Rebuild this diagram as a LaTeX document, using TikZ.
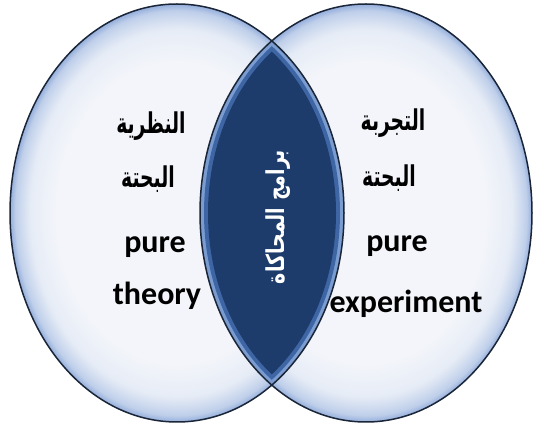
\documentclass[tikz,border=0pt]{standalone}
\usepackage{fontspec}
\setmainfont{Carlito}
\newfontfamily\arabicfont[Script=Arabic]{DejaVu Sans}
\TeXXeTstate=1
\definecolor{bubblecore}{HTML}{F3F5FA}
\definecolor{bubblemid}{HTML}{E6ECF6}
\definecolor{bubbleedge}{HTML}{BFCFEA}
\definecolor{bubblerim}{HTML}{94AEDB}
\definecolor{lensrim}{HTML}{7A9CD0}
\definecolor{lensmid}{HTML}{3F66A4}
\definecolor{lensnavy}{HTML}{1D3C6C}
\definecolor{outlinenavy}{HTML}{1A2538}
\pgfdeclareradialshading{bubble}{\pgfpoint{0bp}{0bp}}{color(0bp)=(bubblecore); color(18bp)=(bubblecore); color(22bp)=(bubblemid); color(24.2bp)=(bubbleedge); color(25bp)=(bubblerim); color(50bp)=(bubblerim)}
% arabisches Wort, etwas schmaler und hoeher
\newcommand{\arword}[1]{\scalebox{0.85}[1.3]{\beginR #1\endR}}

\begin{document}
\begin{tikzpicture}[x=1pt,y=-1pt,
    venntext/.style={font=\fontsize{32}{36}\selectfont\bfseries, anchor=base},
    arabtext/.style={font=\arabicfont\fontsize{22}{26}\selectfont\bfseries, anchor=base},
    outline/.style={draw=outlinenavy, line width=1.5pt}]
    \useasboundingbox (0,0) rectangle (536,427);

    % Mittelpunkte der beiden Kreise
    \coordinate (theo) at (177,213);
    \coordinate (expe) at (366,213);

    % Beide Kreise, hell schattiert
    \shade[shading=bubble] (theo) ellipse [x radius=167pt, y radius=209pt];
    \shade[shading=bubble] (expe) ellipse [x radius=166pt, y radius=209pt];

    % Schnittmenge: heller Rand, dann dunkler Kern
    \begin{scope}
        \clip (theo) ellipse [x radius=167pt, y radius=209pt];
        \fill[lensrim] (expe) ellipse [x radius=166pt, y radius=209pt];
    \end{scope}
    \begin{scope}
        \clip (theo) ellipse [x radius=163pt, y radius=205pt];
        \fill[lensmid] (expe) ellipse [x radius=162pt, y radius=205pt];
    \end{scope}
    \begin{scope}
        \clip (theo) ellipse [x radius=159pt, y radius=201pt];
        \fill[lensnavy] (expe) ellipse [x radius=158pt, y radius=201pt];
    \end{scope}

    % Umrisse
    \draw[outline] (theo) ellipse [x radius=167pt, y radius=209pt];
    \draw[outline] (expe) ellipse [x radius=166pt, y radius=209pt];

    % Beschriftung links
    \node[arabtext] (theoar) at (151,134) {\arword{النظرية}};
    \node[arabtext] (theoarb) at (148,188) {\arword{البحتة}};
    \node[venntext] (theopure) at (155,253) {pure};
    \node[venntext] (theoname) at (157,305) {theory};

    % Beschriftung rechts
    \node[arabtext] (expear) at (393,131) {\arword{التجربة}};
    \node[arabtext] (expearb) at (389,187) {\arword{البحتة}};
    \node[venntext] (expepure) at (397,252) {pure};
    \node[venntext] (expename) at (406,313) {experiment};

    % Beschriftung der Schnittmenge (senkrecht)
    \node[white, rotate=90, font=\arabicfont\fontsize{19}{22}\selectfont\bfseries] (simu) at (278,217) {\scalebox{1}[1.3]{\beginR برامج المحاكاة\endR}};
\end{tikzpicture}
\end{document}
